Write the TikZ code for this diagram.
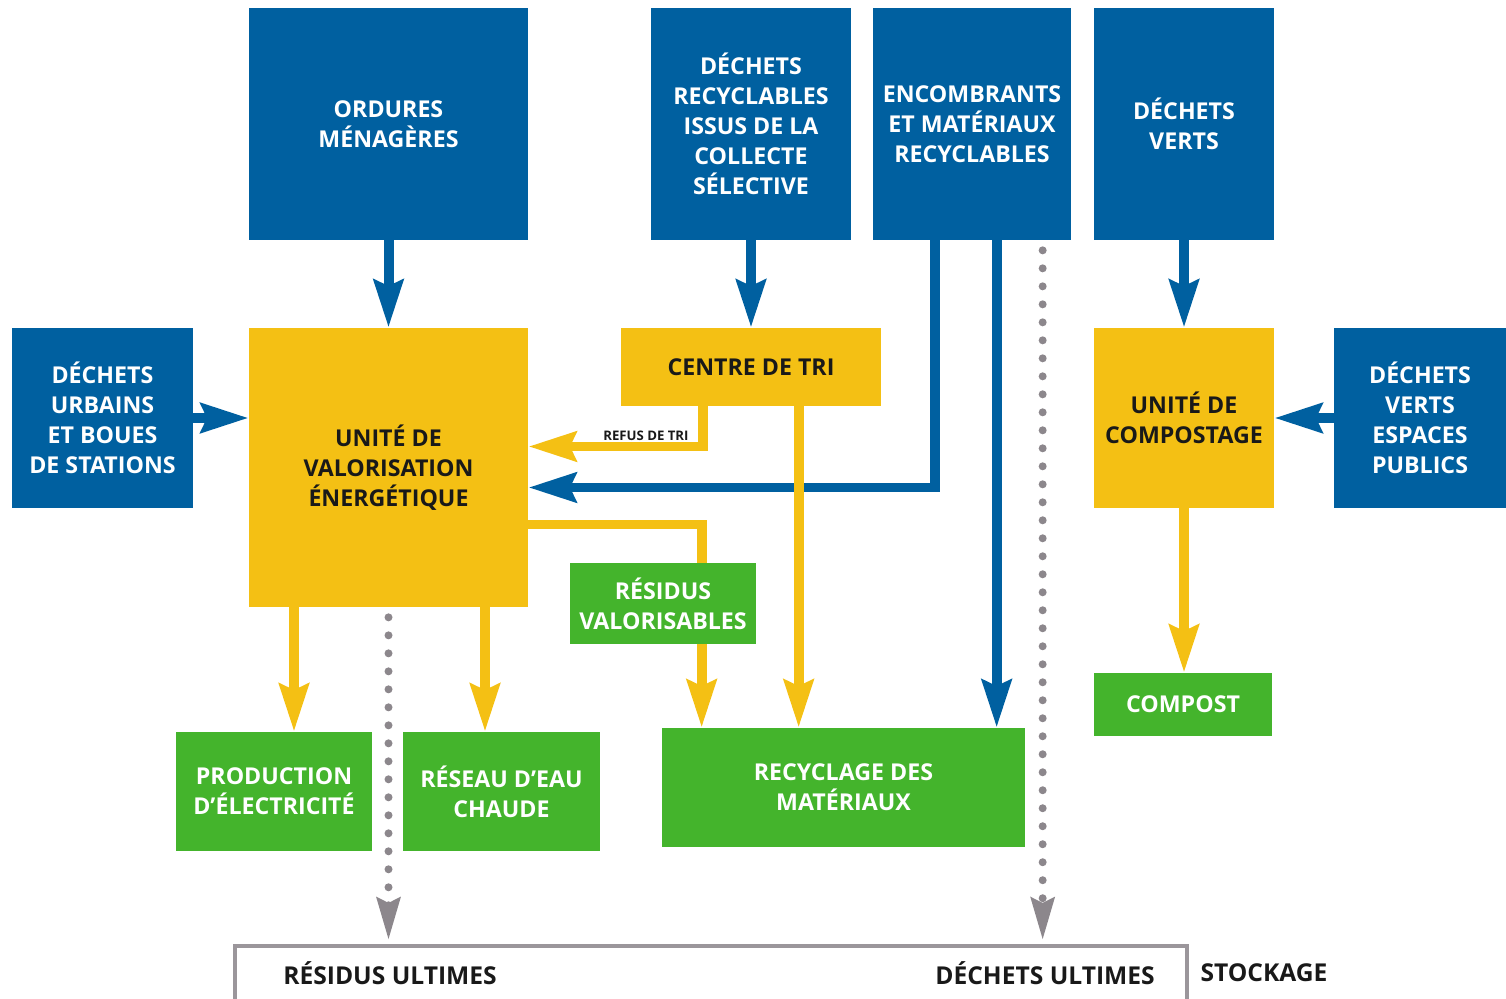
\documentclass[tikz,border=0pt]{standalone}
\usepackage{fontspec}
\setmainfont{Open Sans}
\usetikzlibrary{arrows.meta,calc}
\definecolor{cblue}{RGB}{0,96,160}
\definecolor{cyellow}{RGB}{244,192,20}
\definecolor{cgreen}{RGB}{68,180,44}
\definecolor{cgray}{RGB}{140,135,140}
\definecolor{cline}{RGB}{155,150,155}
\definecolor{ctext}{RGB}{25,25,25}
\begin{document}
\begin{tikzpicture}[x=0.02cm,y=-0.02cm,
  box/.style={rectangle, inner sep=0pt, align=center, font=\bfseries\fontsize{13.2}{17}\selectfont},
  sz/.style 2 args={minimum width=#1*0.02cm, minimum height=#2*0.02cm},
  bbox/.style={box, fill=cblue, text=white},
  ybox/.style={box, fill=cyellow, text=ctext},
  gbox/.style={box, fill=cgreen, text=white},
  barrow/.style={draw=cblue, line width=0.2cm, -{Stealth[length=0.95cm,width=0.58cm,inset=0.12cm]}},
  yarrow/.style={draw=cyellow, line width=0.2cm, -{Stealth[length=0.95cm,width=0.58cm,inset=0.12cm]}},
  darrow/.style={draw=cgray, line width=0.16cm, line cap=round, dash pattern=on 0pt off 0.36cm,
     -{Stealth[length=0.84cm,width=0.46cm,inset=0.1cm]}},
  small/.style={font=\bfseries\fontsize{7.5}{8}\selectfont, text=ctext, inner sep=1pt},
  plain/.style={font=\bfseries\fontsize{14}{17}\selectfont, text=ctext, inner sep=0pt}
]
\useasboundingbox (0,0) rectangle (1506,999);

% top row
\node[bbox, sz={279}{232}] (ord) at (388.5,124) {ORDURES\\MÉNAGÈRES};
\node[bbox, sz={200}{232}] (rec) at (751,124) {DÉCHETS\\RECYCLABLES\\ISSUS DE LA\\COLLECTE\\SÉLECTIVE};
\node[bbox, sz={198}{232}] (enc) at (972,124) {ENCOMBRANTS\\ET MATÉRIAUX\\RECYCLABLES};
\node[bbox, sz={180}{232}] (ver) at (1184,124) {DÉCHETS\\VERTS};

% middle row
\node[bbox, sz={181}{180}] (urb) at (102.5,418) {DÉCHETS\\URBAINS\\ET BOUES\\DE STATIONS};
\node[ybox, sz={279}{279}] (uve) at (388.5,467.5) {UNITÉ DE\\VALORISATION\\ÉNERGÉTIQUE};
\node[ybox, sz={260}{78}] (tri) at (751,367) {CENTRE DE TRI};
\node[ybox, sz={180}{180}] (cmp) at (1184,418) {UNITÉ DE\\COMPOSTAGE};
\node[bbox, sz={172}{180}] (esp) at (1420,418) {DÉCHETS\\VERTS\\ESPACES\\PUBLICS};

% bottom row
\node[gbox, sz={196}{119}] (prod) at (274,791.5) {PRODUCTION\\D’ÉLECTRICITÉ};
\node[gbox, sz={197}{119}] (res) at (501.5,791.5) {RÉSEAU D’EAU\\CHAUDE};
\node[gbox, sz={363}{119}] (recy) at (843.5,787.5) {RECYCLAGE DES\\MATÉRIAUX};
\node[gbox, sz={178}{63}] (comp) at (1183,704.5) {COMPOST};

% stockage
\coordinate (sl) at (235,999);
\coordinate (sr) at (1187,999);
\coordinate (stop) at (235,946);
\draw[cline, line width=2.2pt] (sl) |- (stop) -| (sr);
\node[plain] (ru) at (390,973) {RÉSIDUS ULTIMES};
\node[plain] (du) at (1045,973) {DÉCHETS ULTIMES};
\node[plain] (st) at (1264,973) {STOCKAGE};

% waypoints
\coordinate (e1) at ($(enc.south west)+(62,0)$);
\coordinate (e2) at ($(enc.south west)+(124,0)$);
\coordinate (e3) at ($(enc.south west)+(170,0)$);
\coordinate (t1) at ($(tri.south west)+(82,0)$);
\coordinate (t2) at ($(tri.south west)+(178,0)$);
\coordinate (u1) at ($(uve.east)+(0,57)$);
\coordinate (r1) at ($(recy.north west)+(40,0)$);
\coordinate (p1) at ($(prod.north)+(20,0)$);
\coordinate (h1) at ($(res.north)+(-16.5,0)$);
\coordinate (d1) at ($(stop -| uve.south)+(0,-6)$);
\coordinate (d2) at ($(stop -| e3)+(0,-6)$);

% blue arrows
\draw[barrow] (ord.south) -- (uve.north);
\draw[barrow] (rec.south) -- (tri.north);
\draw[barrow] (ver.south) -- (cmp.north);
\draw[barrow] (urb.east) -- (urb.east -| uve.west);
\draw[barrow] (esp.west) -- (esp.west -| cmp.east);
\draw[barrow] (e1) |- ($(uve.east)+(0,20)$);

% yellow arrows
\draw[yarrow] (t1) |- ($(uve.east)+(0,-21)$);
\draw[yarrow] (t2) -- (t2 |- recy.north);
\draw[yarrow] (u1) -| (r1);
\draw[yarrow] (p1 |- uve.south) -- (p1);
\draw[yarrow] (h1 |- uve.south) -- (h1);
\draw[yarrow] (cmp.south) -- (cmp.south |- comp.north);

\draw[barrow] (e2) -- (e2 |- recy.north);

% dotted
\draw[darrow] ($(uve.south)+(0,10)$) -- (d1);
\draw[darrow] ($(e3)+(0,10)$) -- (d2);

\node[small, anchor=south east] (rf) at ($(t1)+(-12,36)$) {REFUS DE TRI};

\node[gbox, sz={186}{81}] (rv) at (663,603.5) {RÉSIDUS\\VALORISABLES};
\end{tikzpicture}
\end{document}
